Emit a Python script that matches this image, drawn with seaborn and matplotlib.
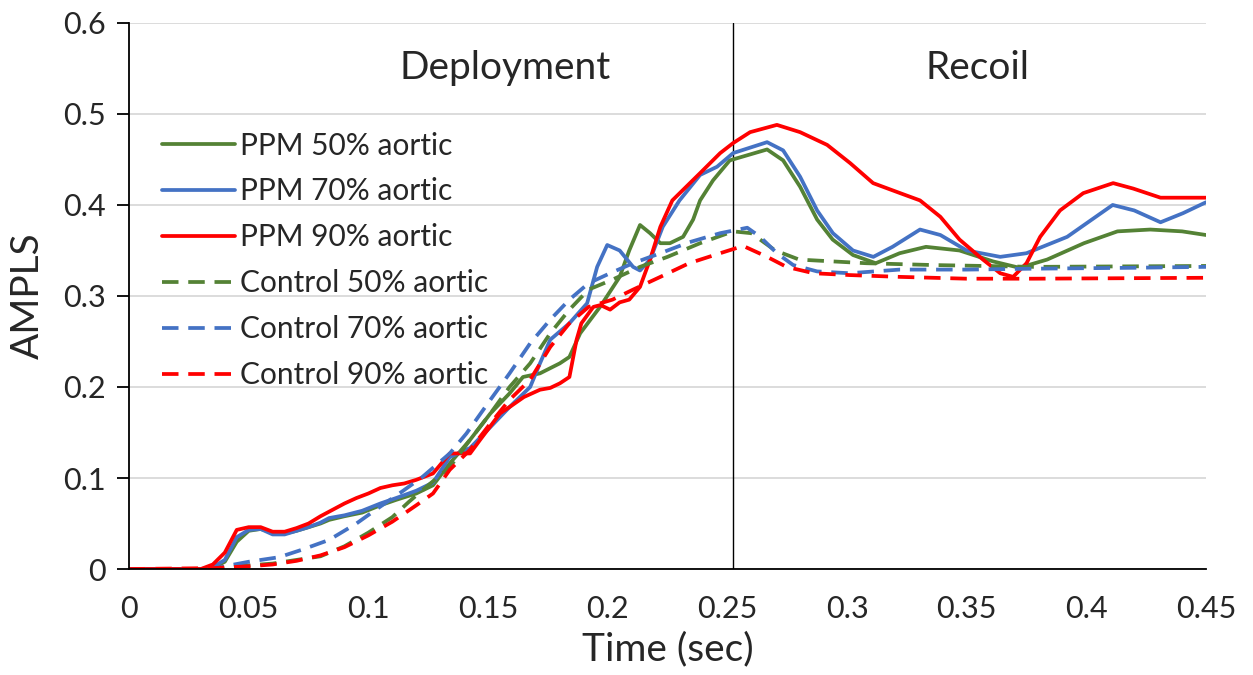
import numpy as np
import pandas as pd
import matplotlib
matplotlib.use("Agg")
import matplotlib.pyplot as plt
import seaborn as sns

# ---- data ----
ppm90_t = [0, 0.03, 0.035, 0.04, 0.045, 0.05, 0.055, 0.06, 0.065, 0.07, 0.075, 0.08, 0.085, 0.09,
           0.095, 0.1, 0.105, 0.11, 0.115, 0.12, 0.127, 0.134, 0.1425, 0.1467, 0.155, 0.159, 0.165,
           0.1717, 0.176, 0.18, 0.184, 0.187, 0.189, 0.194, 0.197, 0.201, 0.205, 0.209, 0.2135,
           0.2177, 0.222, 0.227, 0.2386, 0.247, 0.2524, 0.2595, 0.2707, 0.2804, 0.2917, 0.3013,
           0.3109, 0.3222, 0.3305, 0.339, 0.347, 0.3568, 0.364, 0.3694, 0.375, 0.3807, 0.389,
           0.3987, 0.4112, 0.4196, 0.431, 0.45]
ppm90_v = [0, 0, 0.005, 0.018, 0.043, 0.046, 0.046, 0.041, 0.041, 0.045, 0.05, 0.058, 0.065, 0.072,
           0.078, 0.083, 0.089, 0.092, 0.094, 0.098, 0.105, 0.127, 0.127, 0.142, 0.171, 0.178, 0.189,
           0.197, 0.199, 0.204, 0.211, 0.252, 0.27, 0.288, 0.29, 0.285, 0.293, 0.296, 0.31,
           0.34, 0.376, 0.405, 0.435, 0.457, 0.468, 0.48, 0.488, 0.48, 0.466, 0.446,
           0.424, 0.413, 0.405, 0.387, 0.362, 0.34, 0.325, 0.321, 0.336, 0.365, 0.394,
           0.413, 0.424, 0.418, 0.408, 0.408]

ppm70_t = [0, 0.03, 0.035, 0.04, 0.045, 0.05, 0.055, 0.06, 0.065, 0.07, 0.075, 0.08, 0.0836, 0.09,
           0.0974, 0.105, 0.1116, 0.12, 0.127, 0.134, 0.1425, 0.151, 0.159, 0.1676, 0.1717, 0.176,
           0.184, 0.1914, 0.1956, 0.1998, 0.205, 0.2106, 0.2135, 0.2177, 0.223, 0.23, 0.2386,
           0.2457, 0.2524, 0.2666, 0.2733, 0.2804, 0.2875, 0.2941, 0.3025, 0.311, 0.319, 0.3305,
           0.339, 0.35, 0.364, 0.375, 0.392, 0.411, 0.42, 0.431, 0.4404, 0.45]
ppm70_v = [0, 0, 0.002, 0.01, 0.035, 0.043, 0.044, 0.038, 0.038, 0.042, 0.046, 0.051, 0.056, 0.059,
           0.064, 0.072, 0.078, 0.086, 0.095, 0.123, 0.133, 0.156, 0.178, 0.2, 0.226, 0.252,
           0.27, 0.292, 0.332, 0.356, 0.35, 0.332, 0.328, 0.34, 0.376, 0.405, 0.433,
           0.442, 0.457, 0.469, 0.46, 0.431, 0.394, 0.369, 0.35, 0.343, 0.354, 0.373,
           0.367, 0.35, 0.343, 0.347, 0.365, 0.4, 0.394, 0.381, 0.391, 0.403]

ppm50_t = [0, 0.03, 0.035, 0.04, 0.045, 0.05, 0.055, 0.06, 0.065, 0.07, 0.075, 0.08, 0.0836, 0.09,
           0.0974, 0.105, 0.1116, 0.12, 0.127, 0.134, 0.1425, 0.151, 0.159, 0.1646, 0.1717, 0.18,
           0.184, 0.1885, 0.1968, 0.205, 0.209, 0.2135, 0.2177, 0.222, 0.226, 0.2315, 0.2357,
           0.2386, 0.244, 0.251, 0.2666, 0.2733, 0.2804, 0.2875, 0.294, 0.3025, 0.312, 0.322,
           0.333, 0.347, 0.361, 0.372, 0.3836, 0.399, 0.413, 0.4267, 0.44, 0.45]
ppm50_v = [0, 0, 0.001, 0.008, 0.03, 0.042, 0.044, 0.04, 0.039, 0.042, 0.046, 0.05, 0.054, 0.058,
           0.062, 0.07, 0.076, 0.083, 0.092, 0.116, 0.142, 0.171, 0.193, 0.211, 0.215, 0.226,
           0.233, 0.259, 0.288, 0.321, 0.35, 0.378, 0.369, 0.358, 0.358, 0.365, 0.384,
           0.405, 0.427, 0.449, 0.461, 0.449, 0.42, 0.384, 0.362, 0.345, 0.336, 0.347,
           0.354, 0.35, 0.338, 0.331, 0.34, 0.358, 0.371, 0.373, 0.371, 0.367]

ctl50_t = [0, 0.035, 0.04, 0.05, 0.06, 0.07, 0.08, 0.09, 0.1, 0.11, 0.117, 0.125, 0.134, 0.1425,
           0.151, 0.159, 0.1676, 0.176, 0.184, 0.192, 0.202, 0.2135, 0.225, 0.2386, 0.2524, 0.26,
           0.27, 0.28, 0.294, 0.308, 0.336, 0.378, 0.45]
ctl50_v = [0, 0, 0.002, 0.004, 0.006, 0.01, 0.014, 0.025, 0.04, 0.057, 0.074, 0.092, 0.112, 0.142,
           0.171, 0.2, 0.226, 0.259, 0.285, 0.307, 0.318, 0.332, 0.343, 0.358, 0.371, 0.369,
           0.35, 0.34, 0.338, 0.336, 0.334, 0.332, 0.333]

ctl70_t = [0, 0.035, 0.042, 0.05, 0.0627, 0.072, 0.0836, 0.095, 0.103, 0.114, 0.1225, 0.134, 0.141,
           0.151, 0.159, 0.1676, 0.176, 0.184, 0.192, 0.201, 0.2106, 0.222, 0.234, 0.247, 0.2583,
           0.2637, 0.2707, 0.2775, 0.2875, 0.301, 0.322, 0.35, 0.378, 0.42, 0.45]
ctl70_v = [0, 0, 0.004, 0.008, 0.013, 0.021, 0.032, 0.05, 0.065, 0.085, 0.101, 0.127, 0.149,
           0.186, 0.215, 0.248, 0.274, 0.296, 0.314, 0.325, 0.336, 0.347, 0.359, 0.369, 0.375,
           0.365, 0.347, 0.334, 0.327, 0.325, 0.329, 0.329, 0.33, 0.331, 0.332]

ctl90_t = [0, 0.035, 0.05, 0.06, 0.07, 0.08, 0.09, 0.1, 0.11, 0.12, 0.127, 0.134, 0.1425, 0.151,
           0.159, 0.1676, 0.176, 0.184, 0.192, 0.202, 0.2106, 0.222, 0.234, 0.247, 0.2566, 0.2666,
           0.2747, 0.286, 0.301, 0.322, 0.35, 0.378, 0.45]
ctl90_v = [0, 0.001, 0.003, 0.005, 0.009, 0.015, 0.024, 0.037, 0.052, 0.07, 0.083, 0.109, 0.131, 0.16,
           0.186, 0.208, 0.244, 0.27, 0.288, 0.296, 0.307, 0.321, 0.336, 0.347, 0.355, 0.343,
           0.332, 0.325, 0.323, 0.321, 0.319, 0.319, 0.32]

series_names = ["PPM 50% aortic", "PPM 70% aortic", "PPM 90% aortic",
                "Control 50% aortic", "Control 70% aortic", "Control 90% aortic"]
x_ticks = [0, 0.05, 0.1, 0.15, 0.2, 0.25, 0.3, 0.35, 0.4, 0.45]
x_tick_labels = ["0", "0.05", "0.1", "0.15", "0.2", "0.25", "0.3", "0.35", "0.4", "0.45"]
y_ticks = [0, 0.1, 0.2, 0.3, 0.4, 0.5, 0.6]
y_tick_labels = ["0", "0.1", "0.2", "0.3", "0.4", "0.5", "0.6"]
phase_split = 0.2525
phase_labels = ["Deployment", "Recoil"]

series_data = [(ppm50_t, ppm50_v), (ppm70_t, ppm70_v), (ppm90_t, ppm90_v),
               (ctl50_t, ctl50_v), (ctl70_t, ctl70_v), (ctl90_t, ctl90_v)]
frames = []
for name, (t, v) in zip(series_names, series_data):
    frames.append(pd.DataFrame({"Time": t, "AMPLS": v, "Series": name}))
df = pd.concat(frames, ignore_index=True)

# ---- style ----
sns.set_theme(style="white")
plt.rcParams["font.family"] = ["Lato", "DejaVu Sans"]

green = "#548235"
blue = "#4472C4"
red = "#FF0000"
palette = {series_names[0]: green, series_names[1]: blue, series_names[2]: red,
           series_names[3]: green, series_names[4]: blue, series_names[5]: red}
dash_pat = (4.4, 2.6)
dashes = {series_names[0]: "", series_names[1]: "", series_names[2]: "",
          series_names[3]: dash_pat, series_names[4]: dash_pat, series_names[5]: dash_pat}

fig = plt.figure(figsize=(12.53, 6.75), dpi=100)
ax = fig.add_axes([0.103, 0.157, 0.8595, 0.809])

sns.lineplot(data=df, x="Time", y="AMPLS", hue="Series", style="Series",
             palette=palette, dashes=dashes, hue_order=series_names, style_order=series_names,
             linewidth=2.7, ax=ax, sort=False, estimator=None)

ax.set_xlim(0, 0.45)
ax.set_ylim(0, 0.6)
ax.set_xticks(x_ticks)
ax.set_xticklabels(x_tick_labels, fontsize=22)
ax.set_yticks(y_ticks)
ax.set_yticklabels(y_tick_labels, fontsize=22)
ax.yaxis.grid(True, color="#d9d9d9", linewidth=1.3)
ax.xaxis.grid(False)
for s in ["top", "right"]:
    ax.spines[s].set_visible(False)
for s in ["left", "bottom"]:
    ax.spines[s].set_color("black")
    ax.spines[s].set_linewidth(1.3)
ax.tick_params(axis="y", left=True, length=9, width=1.3, color="black", pad=8)
ax.tick_params(axis="x", bottom=False, pad=13)

ax.axvline(phase_split, color="black", linewidth=1.0, zorder=1)

ax.text(0.157, 0.5505, phase_labels[0], fontsize=28, ha="center", va="center")
ax.text(0.3545, 0.5505, phase_labels[1], fontsize=28, ha="center", va="center")

ax.set_xlabel("Time (sec)", fontsize=28, labelpad=6)
ax.set_ylabel("AMPLS", fontsize=28, labelpad=12)

leg = ax.legend(loc="upper left", bbox_to_anchor=(0.0195, 0.823), frameon=False,
                fontsize=21.5, handlelength=2.45, handletextpad=0.17, labelspacing=0.6,
                borderaxespad=0)

fig.savefig("out.png", dpi=100)
